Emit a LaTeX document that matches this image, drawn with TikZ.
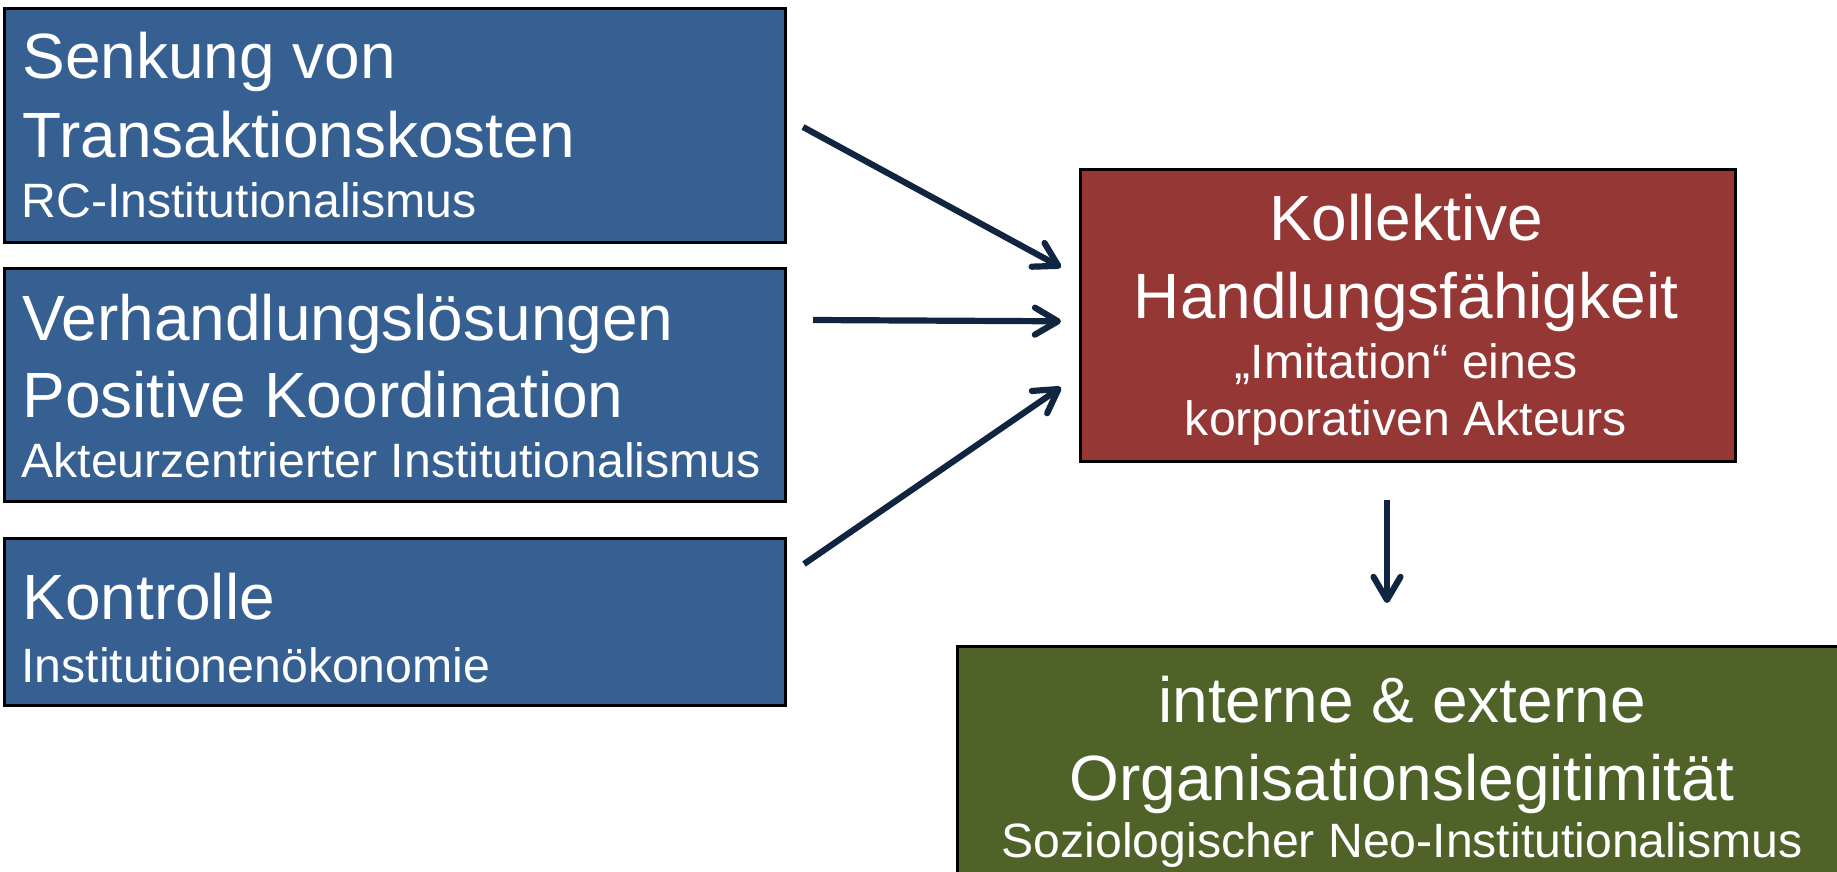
\documentclass[tikz,border=0pt]{standalone}
\usepackage{fontspec}
\setmainfont{Liberation Sans}
\usetikzlibrary{arrows.meta}
\definecolor{bluebox}{HTML}{376092}
\definecolor{redbox}{HTML}{953735}
\definecolor{greenbox}{HTML}{4F6228}
\definecolor{arrowc}{HTML}{10253F}
\begin{document}
\begin{tikzpicture}[x=0.5pt,y=-0.5pt,
  box/.style={draw=black, line width=1.3pt, anchor=north west, inner sep=0pt},
  big/.style={font=\fontsize{32}{38}\selectfont, text=white, inner sep=0pt},
  small/.style={font=\fontsize{24.1}{28}\selectfont, text=white, inner sep=0pt},
  conn/.style={draw=arrowc, line width=3.1pt, -{Straight Barb[length=11.5pt,width=13.5pt,round]}}]
\clip (0,0) rectangle (1837,872);
\fill[white] (0,0) rectangle (1837,872);
% boxes
\node[box, fill=bluebox, minimum width=390.5pt, minimum height=117pt] (b1) at (3,7) {};
\node[box, fill=bluebox, minimum width=390.5pt, minimum height=116.5pt] (b2) at (3,267) {};
\node[box, fill=bluebox, minimum width=390.5pt, minimum height=83.5pt] (b3) at (3,537) {};
\node[box, fill=redbox, minimum width=327.5pt, minimum height=146pt] (r) at (1079,168) {};
\node[box, fill=greenbox, minimum width=446pt, minimum height=130pt] (g) at (956,645) {};
% texts box 1
\node[big, anchor=base west] (t1a) at (22,79) {Senkung von};
\node[big, anchor=base west] (t1b) at (22,157) {Transaktionskosten};
\node[small, anchor=base west] (t1c) at (21,217) {RC-Institutionalismus};
% texts box 2
\node[big, anchor=base west] (t2a) at (22,340) {Verhandlungslösungen};
\node[big, anchor=base west] (t2b) at (22,417) {Positive Koordination};
\node[small, anchor=base west] (t2c) at (21,477) {Akteurzentrierter Institutionalismus};
% texts box 3
\node[big, anchor=base west] (t3a) at (22,619) {Kontrolle};
\node[small, anchor=base west] (t3b) at (21,682) {Institutionenökonomie};
% red box text
\node[big, anchor=base] (tra) at (1406,241) {Kollektive};
\node[big, anchor=base] (trb) at (1406,318) {Handlungsfähigkeit};
\node[small, anchor=base] (trc) at (1406,378) {„Imitation“ eines};
\node[small, anchor=base] (trd) at (1406,435) {korporativen Akteurs};
% green box text
\node[big, anchor=base] (tga) at (1402,722) {interne \& externe};
\node[big, anchor=base] (tgb) at (1402,800) {Organisationslegitimität};
\node[small, anchor=base] (tgc) at (1402,857) {Soziologischer Neo-Institutionalismus};
% arrows
\coordinate (a1) at (803,127);
\coordinate (a2) at (813,320);
\coordinate (a3) at (804,564);
\coordinate (d1) at (1387,500);
\coordinate (d2) at (1387,603);
\draw[conn] (a1) -- ([xshift=-9pt,yshift=24pt]r.west);
\draw[conn] (a2) -- ([xshift=-9pt,yshift=-3pt]r.west);
\draw[conn] (a3) -- ([xshift=-9pt,yshift=-36pt]r.west);
\draw[conn] (d1) -- (d2);
\end{tikzpicture}
\end{document}
